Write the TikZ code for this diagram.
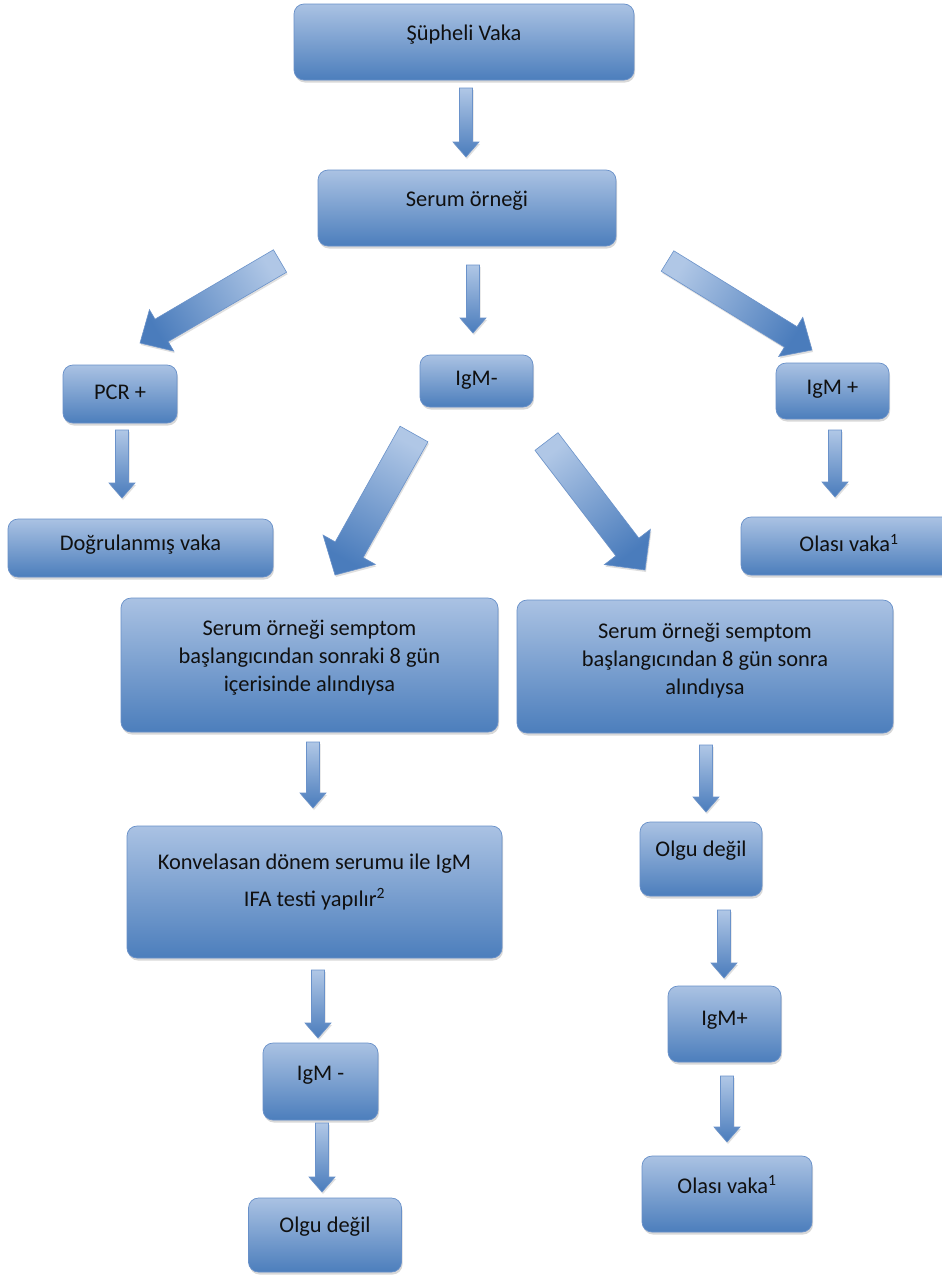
\documentclass[tikz,border=0pt]{standalone}
\usepackage{fontspec}
\setmainfont{Carlito}
\usetikzlibrary{calc,shadows}
\definecolor{boxtop}{HTML}{AAC2E3}
\definecolor{boxbot}{HTML}{4C7EBC}
\definecolor{boxline}{HTML}{6890C9}
\definecolor{arrtop}{HTML}{B0C7E6}
\definecolor{arrbot}{HTML}{4A7CBC}
\definecolor{arrline}{HTML}{6A92CA}
\definecolor{txtcol}{HTML}{101010}
% block arrow: #1 from, #2 to, #3 shaft half width, #4 head half width, #5 head length
\newcommand\blockarrow[5]{%
  \pgfmathanglebetweenpoints{\pgfpointanchor{#1}{center}}{\pgfpointanchor{#2}{center}}%
  \pgfmathsetmacro\baangle{\pgfmathresult+90}%
  \coordinate (bahead) at ($(#2)!#5!(#1)$);
  \shade[barrow, shading angle=\baangle]
    ($(#1)!#3!90:(#2)$) -- ($(bahead)!#3!90:(#2)$) -- ($(bahead)!#4!90:(#2)$) -- (#2)
    -- ($(bahead)!#4!-90:(#2)$) -- ($(bahead)!#3!-90:(#2)$) -- ($(#1)!#3!-90:(#2)$) -- cycle;
}
\begin{document}
\begin{tikzpicture}[x=1pt,y=-1pt,
  box/.style={rectangle, rounded corners=10pt, top color=boxtop, bottom color=boxbot,
    draw=boxline, line width=0.7pt, inner sep=0pt,
    drop shadow={opacity=0.3, shadow xshift=1pt, shadow yshift=-2.5pt}},
  txt/.style={font=\fontsize{22.4}{28}\selectfont, text=txtcol, align=center, inner sep=0pt},
  barrow/.style={top color=arrtop, bottom color=arrbot, draw=arrline, line width=0.6pt,
    line join=miter, drop shadow={opacity=0.25, shadow xshift=1pt, shadow yshift=-2pt}}]
\useasboundingbox[fill=white] (0,0) rectangle (942,1277);

% boxes
\node[box, minimum width=340pt, minimum height=76pt] (n1) at (464,42) {};
\node[txt] (t1) at ([yshift=7pt]n1.center) {Şüpheli Vaka};
\node[box, minimum width=298pt, minimum height=76pt] (n2) at (467,208) {};
\node[txt] (t2) at ([yshift=7pt]n2.center) {Serum örneği};
\node[box, minimum width=114pt, minimum height=58pt] (n3) at (120,394) {};
\node[txt] (t3) at ([yshift=2pt]n3.center) {PCR +};
\node[box, minimum width=113pt, minimum height=52pt] (n4) at (476.5,381) {};
\node[txt] (t4) at ([yshift=1pt]n4.center) {IgM-};
\node[box, minimum width=113pt, minimum height=56pt] (n5) at (832.5,391) {};
\node[txt] (t5) at ([yshift=2pt]n5.center) {IgM +};
\node[box, minimum width=265pt, minimum height=58pt] (n6) at (140.5,548) {};
\node[txt] (t6) at ([yshift=3pt]n6.center) {Doğrulanmış vaka};
\node[box, minimum width=216pt, minimum height=58pt] (n7) at (849,546) {};
\node[txt] (t7) at ([yshift=3pt]n7.center) {Olası vaka\textsuperscript{1}};
\node[box, minimum width=377pt, minimum height=134pt] (n8) at (309.5,665) {};
\node[txt] (t8) at ([yshift=7.5pt]n8.center) {Serum örneği semptom\\başlangıcından sonraki 8 gün\\içerisinde alındıysa};
\node[box, minimum width=376pt, minimum height=133pt] (n9) at (705,666.5) {};
\node[txt] (t9) at ([yshift=6pt]n9.center) {Serum örneği semptom\\başlangıcından 8 gün sonra\\alındıysa};
\node[box, minimum width=375pt, minimum height=132pt] (n10) at (314.5,892) {};
\node[txt] (t10) at ([yshift=10pt]n10.center) {Konvelasan dönem serumu ile IgM\\[8.5pt]IFA testi yapılır\textsuperscript{2}};
\node[box, minimum width=122pt, minimum height=74pt] (n11) at (701,859) {};
\node[txt] (t11) at ([yshift=8pt]n11.center) {Olgu değil};
\node[box, minimum width=115pt, minimum height=77pt] (n12) at (320.5,1081.5) {};
\node[txt] (t12) at ([yshift=6.5pt]n12.center) {IgM -};
\node[box, minimum width=113pt, minimum height=76pt] (n13) at (724.5,1024) {};
\node[txt] (t13) at ([yshift=4pt]n13.center) {IgM+};
\node[box, minimum width=153pt, minimum height=74pt] (n14) at (325,1235) {};
\node[txt] (t14) at ([yshift=8pt]n14.center) {Olgu değil};
\node[box, minimum width=170pt, minimum height=76pt] (n15) at (727,1194) {};
\node[txt] (t15) at ([yshift=9.5pt]n15.center) {Olası vaka\textsuperscript{1}};

% arrow end points
\coordinate (a1s) at (466,88);    \coordinate (a1e) at (466,157);
\coordinate (a2s) at (473,265);   \coordinate (a2e) at (473,333);
\coordinate (a3s) at (280,261);   \coordinate (a3e) at (140,343);
\coordinate (a4s) at (667.5,261); \coordinate (a4e) at (812,350);
\coordinate (a5s) at (122,430);   \coordinate (a5e) at (122,498);
\coordinate (a6s) at (835,430);   \coordinate (a6e) at (835,497);
\coordinate (a7s) at (414,434);   \coordinate (a7e) at (335,575);
\coordinate (a8s) at (546.5,441.5); \coordinate (a8e) at (645,570);
\coordinate (a9s) at (313,742);   \coordinate (a9e) at (313,808);
\coordinate (a10s) at (706,745);  \coordinate (a10e) at (706,812);
\coordinate (a11s) at (318,970);  \coordinate (a11e) at (318,1038);
\coordinate (a12s) at (724,910);  \coordinate (a12e) at (724,978);
\coordinate (a13s) at (322,1123); \coordinate (a13e) at (322,1192);
\coordinate (a14s) at (727,1076); \coordinate (a14e) at (727,1142);

% block arrows
\blockarrow{a1s}{a1e}{6.5pt}{13pt}{15pt}
\blockarrow{a2s}{a2e}{6.5pt}{13pt}{15pt}
\blockarrow{a3s}{a3e}{13pt}{24pt}{25pt}
\blockarrow{a4s}{a4e}{12pt}{23pt}{25pt}
\blockarrow{a5s}{a5e}{6.5pt}{13pt}{15pt}
\blockarrow{a6s}{a6e}{6.5pt}{13pt}{15pt}
\blockarrow{a7s}{a7e}{16pt}{30pt}{29pt}
\blockarrow{a8s}{a8e}{14.5pt}{29pt}{29pt}
\blockarrow{a9s}{a9e}{6.5pt}{13pt}{15pt}
\blockarrow{a10s}{a10e}{6.5pt}{13pt}{15pt}
\blockarrow{a11s}{a11e}{6.5pt}{13pt}{15pt}
\blockarrow{a12s}{a12e}{6.5pt}{13pt}{15pt}
\blockarrow{a13s}{a13e}{6.5pt}{13pt}{15pt}
\blockarrow{a14s}{a14e}{6.5pt}{13pt}{15pt}
\end{tikzpicture}
\end{document}
